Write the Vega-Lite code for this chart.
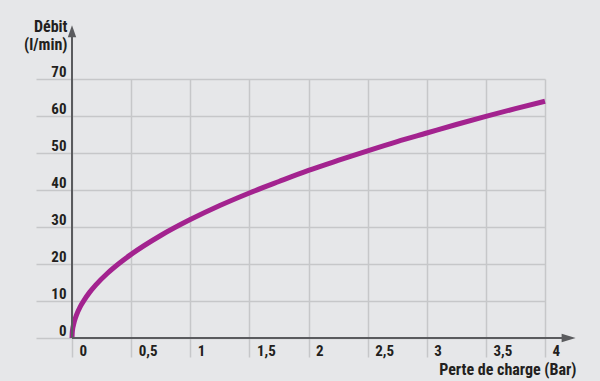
{
  "$schema": "https://vega.github.io/schema/vega-lite/v6.json",
  "width": 473,
  "height": 259,
  "autosize": {"type": "none"},
  "padding": {"left": 72, "top": 79, "right": 55, "bottom": 43},
  "background": "#e6e7e9",
  "config": {
    "view": {"stroke": null},
    "font": "Roboto Condensed, Liberation Sans Narrow, DejaVu Sans Condensed, Roboto, sans-serif"
  },
  "datasets": {
    "curve": [
      {"dp": 0, "q": 0},
      {"dp": 0.002, "q": 1.4},
      {"dp": 0.005, "q": 2.3},
      {"dp": 0.01, "q": 3.2},
      {"dp": 0.02, "q": 4.5},
      {"dp": 0.04, "q": 6.4},
      {"dp": 0.07, "q": 8.5},
      {"dp": 0.1, "q": 10.1},
      {"dp": 0.15, "q": 12.4},
      {"dp": 0.2, "q": 14.3},
      {"dp": 0.3, "q": 17.5},
      {"dp": 0.4, "q": 20.2},
      {"dp": 0.5, "q": 22.6},
      {"dp": 0.75, "q": 27.7},
      {"dp": 1, "q": 32},
      {"dp": 1.25, "q": 35.8},
      {"dp": 1.5, "q": 39.2},
      {"dp": 1.75, "q": 42.3},
      {"dp": 2, "q": 45.3},
      {"dp": 2.25, "q": 48},
      {"dp": 2.5, "q": 50.6},
      {"dp": 2.75, "q": 53.1},
      {"dp": 3, "q": 55.4},
      {"dp": 3.25, "q": 57.7},
      {"dp": 3.5, "q": 59.9},
      {"dp": 3.75, "q": 62},
      {"dp": 4, "q": 64}
    ],
    "yaxis": [{"dp": 0, "q": 0, "q2": 82}],
    "xaxis": [{"dp": 0, "dp2": 4.15, "q": 0}],
    "yarrow": [{"dp": 0, "q": 82.9}],
    "xarrow": [{"dp": 4.2, "q": 0}]
  },
  "encoding": {
    "x": {
      "field": "dp", "type": "quantitative",
      "scale": {"domain": [0, 4], "nice": false, "zero": false},
      "axis": {
        "values": [0, 0.5, 1, 1.5, 2, 2.5, 3, 3.5, 4],
        "domain": false,
        "grid": true, "gridColor": "#c6c7c9", "gridWidth": 1.5,
        "ticks": true, "tickSize": 19, "tickColor": "#c6c7c9", "tickWidth": 1.5,
        "labelExpr": "replace(format(datum.value, '~g'), '.', ',')",
        "labelOverlap": false,
        "labelAlign": "left", "labelBaseline": "top", "labelOffset": 7,
        "labelPadding": -14,
        "labelFontSize": 15, "labelFontWeight": "bold", "labelColor": "#231f20",
        "title": "Perte de charge (Bar)",
        "titleFontSize": 16, "titleFontWeight": "bold", "titleColor": "#231f20",
        "titleAlign": "right", "titleBaseline": "alphabetic",
        "titleX": 504, "titleY": 36
      }
    },
    "y": {
      "field": "q", "type": "quantitative",
      "scale": {"domain": [0, 70], "nice": false},
      "axis": {
        "values": [0, 10, 20, 30, 40, 50, 60, 70],
        "domain": false,
        "grid": true, "gridColor": "#c6c7c9", "gridWidth": 1.5,
        "ticks": true, "tickSize": 36, "tickColor": "#c6c7c9", "tickWidth": 1.5,
        "labelOverlap": false,
        "labelAlign": "right", "labelBaseline": "alphabetic", "labelOffset": -3,
        "labelPadding": -30,
        "labelFontSize": 15, "labelFontWeight": "bold", "labelColor": "#231f20",
        "title": ["Débit", "(l/min)"],
        "titleFontSize": 16, "titleFontWeight": "bold", "titleColor": "#231f20",
        "titleAngle": 0, "titleAlign": "right", "titleBaseline": "alphabetic",
        "titleLineHeight": 18,
        "titleX": -5, "titleY": -48
      }
    }
  },
  "layer": [
    {
      "data": {"name": "curve"},
      "mark": {"type": "line", "color": "#a3238f", "strokeWidth": 5, "interpolate": "monotone", "strokeCap": "butt"}
    },
    {
      "data": {"name": "yaxis"},
      "mark": {"type": "rule", "color": "#5a5b5e", "strokeWidth": 2},
      "encoding": {"y2": {"field": "q2"}}
    },
    {
      "data": {"name": "xaxis"},
      "mark": {"type": "rule", "color": "#5a5b5e", "strokeWidth": 2},
      "encoding": {"x2": {"field": "dp2"}}
    },
    {
      "data": {"name": "yarrow"},
      "mark": {"type": "point", "shape": "M-0.7,1 L0,-1 L0.7,1 Z", "size": 144, "filled": true, "color": "#5a5b5e", "opacity": 1}
    },
    {
      "data": {"name": "xarrow"},
      "mark": {"type": "point", "shape": "M-1,-0.6 L1,0 L-1,0.6 Z", "size": 196, "filled": true, "color": "#5a5b5e", "opacity": 1}
    }
  ]
}
